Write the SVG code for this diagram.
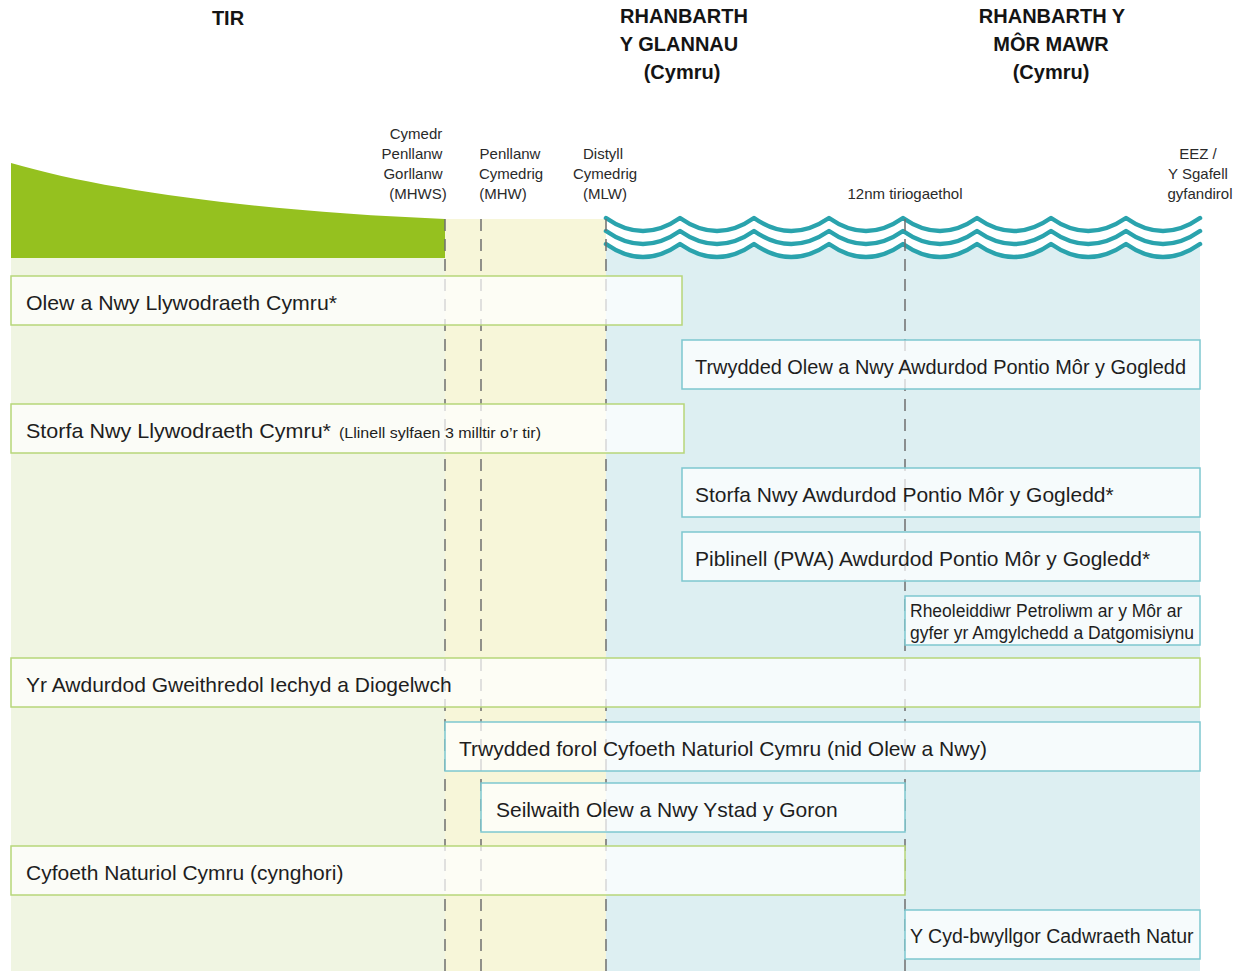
<svg xmlns="http://www.w3.org/2000/svg" width="1238" height="971" viewBox="0 0 1238 971">
<style>
.hdr{font-family:"Liberation Sans",Arial,sans-serif;font-weight:bold;font-size:20px;fill:#141414;text-anchor:middle}
.lbl{font-family:"Liberation Sans",Arial,sans-serif;font-size:15px;fill:#2a2a2a;text-anchor:middle}
.box{fill:#ffffff;fill-opacity:0.72;stroke-width:1.5}
.g{stroke:#b7d67a}
.t{stroke:#7ec7cf}
.txt{font-family:"Liberation Sans",Arial,sans-serif;font-size:21px;fill:#1e1e1e}
.sm{font-size:15.5px}
.dash{stroke:#6f6f6f;stroke-width:1.5;stroke-dasharray:12 8;fill:none}
.wave{fill:none;stroke:#2aa3ad;stroke-width:4.5;stroke-linejoin:round;stroke-linecap:round}
</style>
<rect width="1238" height="971" fill="#ffffff"/>
<g id="background">
<rect x="11" y="258" width="434" height="713" fill="#f0f5e2"/>
<rect x="445" y="219" width="161" height="752" fill="#f7f6d9"/>
<path d="M606,244 Q643,270 680,244 Q717,270 754,244 Q791,270 829,244 Q866,270 903,244 Q940,270 977,244 Q1014,270 1051,244 Q1088,270 1126,244 Q1163,270 1200,244 L1200,971 L606,971 Z" fill="#ddeff2"/>
<path d="M11,163 C110,192 270,212 445,219 L445,258 L11,258 Z" fill="#95c11f"/>
</g>
<g id="waves">
<path class="wave" d="M606,218 Q643,244 680,218 Q717,244 754,218 Q791,244 829,218 Q866,244 903,218 Q940,244 977,218 Q1014,244 1051,218 Q1088,244 1126,218 Q1163,244 1200,218"/>
<path class="wave" d="M606,231 Q643,257 680,231 Q717,257 754,231 Q791,257 829,231 Q866,257 903,231 Q940,257 977,231 Q1014,257 1051,231 Q1088,257 1126,231 Q1163,257 1200,231"/>
<path class="wave" d="M606,244 Q643,270 680,244 Q717,270 754,244 Q791,270 829,244 Q866,270 903,244 Q940,270 977,244 Q1014,270 1051,244 Q1088,270 1126,244 Q1163,270 1200,244"/>
</g>
<g id="headers">
<text class="hdr" x="228" y="25">TIR</text>
<text class="hdr" x="684" y="23">RHANBARTH</text>
<text class="hdr" x="679" y="51">Y GLANNAU</text>
<text class="hdr" x="682" y="79">(Cymru)</text>
<text class="hdr" x="1052" y="23">RHANBARTH Y</text>
<text class="hdr" x="1051" y="51">MÔR MAWR</text>
<text class="hdr" x="1051" y="79">(Cymru)</text>
</g>
<g id="boundary-labels">
<text class="lbl"><tspan x="416" y="139">Cymedr</tspan><tspan x="412" y="159">Penllanw</tspan><tspan x="413" y="179">Gorllanw</tspan><tspan x="418" y="199">(MHWS)</tspan></text>
<text class="lbl"><tspan x="510" y="159">Penllanw</tspan><tspan x="511" y="179">Cymedrig</tspan><tspan x="503" y="199">(MHW)</tspan></text>
<text class="lbl"><tspan x="603" y="159">Distyll</tspan><tspan x="605" y="179">Cymedrig</tspan><tspan x="605" y="199">(MLW)</tspan></text>
<text class="lbl" x="905" y="199">12nm tiriogaethol</text>
<text class="lbl"><tspan x="1198" y="159">EEZ /</tspan><tspan x="1198" y="179">Y Sgafell</tspan><tspan x="1200" y="199">gyfandirol</tspan></text>
</g>
<g id="connectors">
<line class="dash" x1="445" y1="219" x2="445" y2="971"/>
<line class="dash" x1="481" y1="219" x2="481" y2="971"/>
<line class="dash" x1="606" y1="219" x2="606" y2="971"/>
<line class="dash" x1="905" y1="219" x2="905" y2="971"/>
</g>
<g id="n1"><rect class="box g" x="11" y="276" width="671" height="49"/><text class="txt" x="26" y="310" textLength="311" lengthAdjust="spacingAndGlyphs">Olew a Nwy Llywodraeth Cymru*</text></g>
<g id="n2"><rect class="box t" x="682" y="340" width="518" height="49"/><text class="txt" x="695" y="374" textLength="491" lengthAdjust="spacingAndGlyphs">Trwydded Olew a Nwy Awdurdod Pontio Môr y Gogledd</text></g>
<g id="n3"><rect class="box g" x="11" y="404" width="673" height="49"/><text class="txt" x="26" y="438" textLength="305" lengthAdjust="spacingAndGlyphs">Storfa Nwy Llywodraeth Cymru*</text><text class="txt sm" x="339" y="438" textLength="202" lengthAdjust="spacingAndGlyphs">(Llinell sylfaen 3 milltir o’r tir)</text></g>
<g id="n4"><rect class="box t" x="682" y="468" width="518" height="49"/><text class="txt" x="695" y="502">Storfa Nwy Awdurdod Pontio Môr y Gogledd*</text></g>
<g id="n5"><rect class="box t" x="682" y="532" width="518" height="49"/><text class="txt" x="695" y="566">Piblinell (PWA) Awdurdod Pontio Môr y Gogledd*</text></g>
<g id="n6"><rect class="box t" x="905" y="596" width="295" height="49"/><text class="txt" style="font-size:17.5px"><tspan x="910" y="617">Rheoleiddiwr Petroliwm ar y Môr ar</tspan><tspan x="910" y="639">gyfer yr Amgylchedd a Datgomisiynu</tspan></text></g>
<g id="n7"><rect class="box g" x="11" y="658" width="1189" height="49"/><text class="txt" x="26" y="692">Yr Awdurdod Gweithredol Iechyd a Diogelwch</text></g>
<g id="n8"><rect class="box t" x="445" y="722" width="755" height="49"/><text class="txt" x="459" y="756">Trwydded forol Cyfoeth Naturiol Cymru (nid Olew a Nwy)</text></g>
<g id="n9"><rect class="box t" x="481" y="783" width="424" height="49"/><text class="txt" x="496" y="817">Seilwaith Olew a Nwy Ystad y Goron</text></g>
<g id="n10"><rect class="box g" x="11" y="846" width="894" height="49"/><text class="txt" x="26" y="880">Cyfoeth Naturiol Cymru (cynghori)</text></g>
<g id="n11"><rect class="box t" x="905" y="910" width="295" height="49"/><text class="txt" x="910" y="943" style="font-size:19.5px">Y Cyd-bwyllgor Cadwraeth Natur</text></g>
</svg>
